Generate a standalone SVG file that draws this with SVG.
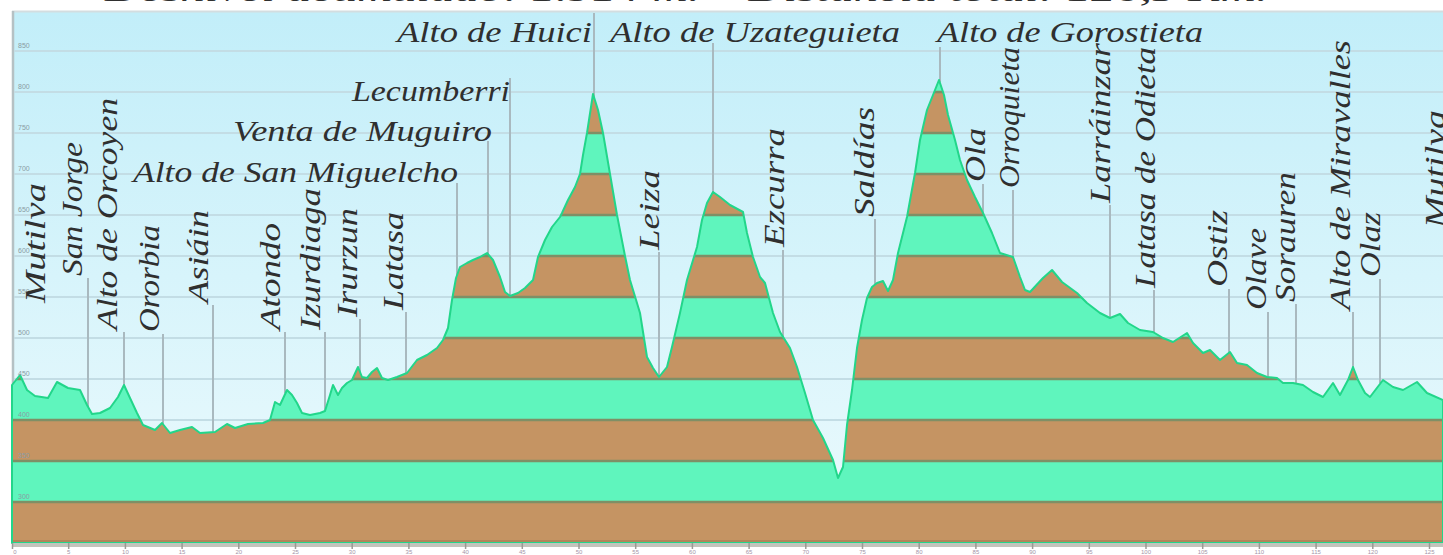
<svg xmlns="http://www.w3.org/2000/svg" width="1443" height="555" viewBox="0 0 1443 555">
<style>
.lbl{font-family:"Liberation Serif","DejaVu Serif",serif;font-style:italic;fill:#2f2f2f;font-size:30px}
.hl{font-size:30px}
.grid{stroke:#c3dde5;stroke-width:2}
.lead{stroke:#a9b9bf;stroke-width:2;fill:none}
.yl{font-family:"Liberation Sans",sans-serif;font-size:7px;fill:#8a9ca3}
.xl{font-family:"Liberation Sans",sans-serif;font-size:6px;fill:#a595a8;text-anchor:middle}
.tick{stroke:#9a9a94;stroke-width:1.5}
.brown{fill:#c59463}
.green{fill:#5ff5bd}
.bline{stroke:#7f8f66;stroke-width:2.5}
</style>
<defs>
<linearGradient id="sky" x1="0" y1="0" x2="0" y2="1">
<stop offset="0" stop-color="#c2eef9"/>
<stop offset="1" stop-color="#ecfafd"/>
</linearGradient>
<clipPath id="prof">
<path id="pp" d="M12,385 L20,375 27,390 35,396 48,398 57,382 68,388 80,390 87,405 92,414 100,413 110,408 118,397 124,385 130,398 137,413 143,425 155,430 162,423 170,433 180,430 192,427 200,433 215,432 227,424 235,428 248,424 263,423 270,420 275,402 280,405 287,390 292,395 297,403 302,413 310,415 320,413 325,411 330,395 333,385 338,395 342,388 347,383 352,380 358,367 362,377 367,378 372,372 377,368 382,378 388,380 397,377 407,373 417,360 427,355 437,348 443,340 448,328 452,300 456,278 460,267 467,263 473,260 480,257 487,253 493,260 500,277 505,292 510,296 518,293 525,288 533,280 538,257 545,240 552,227 560,217 562,213 568,200 575,187 580,174 583,155 587,133 593,94 598,110 603,133 610,174 617,215 625,256 630,280 640,313 647,357 653,368 659,377 667,367 672,347 680,313 687,280 697,247 702,220 707,203 713,192 720,197 730,205 743,212 747,233 753,257 760,277 765,283 773,313 780,332 790,348 797,367 805,393 813,420 823,438 833,460 838,478 843,467 847,425 852,390 857,348 862,320 867,298 872,287 877,283 883,281 888,291 893,280 898,253 907,217 915,173 920,140 927,110 935,90 939,80 944,95 948,115 955,140 960,160 967,180 975,197 983,213 992,233 1000,253 1013,257 1020,277 1025,290 1030,292 1043,278 1052,270 1062,282 1077,293 1087,303 1100,313 1110,318 1120,314 1128,323 1140,330 1153,332 1163,338 1173,342 1187,333 1193,343 1203,353 1210,350 1220,360 1230,352 1237,363 1247,365 1257,373 1267,377 1277,378 1283,383 1293,383 1303,385 1313,392 1323,397 1333,383 1340,395 1348,380 1353,367 1358,380 1365,393 1370,397 1383,380 1393,387 1403,390 1417,382 1427,393 1443,400 L1443,543 L12,543 Z"/>
</clipPath>
</defs>

<rect width="1443" height="555" fill="#ffffff"/>
<text class="lbl" x="105" y="1" font-size="24" textLength="1163" lengthAdjust="spacingAndGlyphs">Desnivel acumulado: 1.914 m. – Distancia total: 126,5 Km.</text>

<g id="chart-frame">
<rect x="12" y="11" width="1431" height="532" fill="url(#sky)"/>
<line x1="12" y1="11.5" x2="1443" y2="11.5" stroke="#d3dde0" stroke-width="2"/>
<line x1="13" y1="11" x2="13" y2="543" stroke="#b5c1c4" stroke-width="2.5"/>
</g>

<g id="gridlines">
<line class="grid" x1="14" y1="51" x2="1443" y2="51"/>
<line class="grid" x1="14" y1="92" x2="1443" y2="92"/>
<line class="grid" x1="14" y1="133" x2="1443" y2="133"/>
<line class="grid" x1="14" y1="174" x2="1443" y2="174"/>
<line class="grid" x1="14" y1="215" x2="1443" y2="215"/>
<line class="grid" x1="14" y1="256" x2="1443" y2="256"/>
<line class="grid" x1="14" y1="297" x2="1443" y2="297"/>
<line class="grid" x1="14" y1="338" x2="1443" y2="338"/>
<line class="grid" x1="14" y1="379" x2="1443" y2="379"/>
<line class="grid" x1="14" y1="420" x2="1443" y2="420"/>
</g>

<g id="connectors">
<line class="lead" x1="88" y1="278" x2="88" y2="407"/>
<line class="lead" x1="124" y1="332" x2="124" y2="386"/>
<line class="lead" x1="163" y1="334" x2="163" y2="424"/>
<line class="lead" x1="213" y1="305" x2="213" y2="432"/>
<line class="lead" x1="285" y1="332" x2="285" y2="393"/>
<line class="lead" x1="325" y1="332" x2="325" y2="411"/>
<line class="lead" x1="360" y1="319" x2="360" y2="372"/>
<line class="lead" x1="406" y1="312" x2="406" y2="374"/>
<line class="lead" x1="457" y1="183" x2="457" y2="276"/>
<line class="lead" x1="488" y1="141" x2="488" y2="255"/>
<line class="lead" x1="510" y1="78" x2="510" y2="296"/>
<line class="lead" x1="594" y1="13" x2="594" y2="97"/>
<line class="lead" x1="659" y1="252" x2="659" y2="377"/>
<line class="lead" x1="713" y1="43" x2="713" y2="193"/>
<line class="lead" x1="783" y1="250" x2="783" y2="338"/>
<line class="lead" x1="875" y1="219" x2="875" y2="284"/>
<line class="lead" x1="940" y1="47" x2="940" y2="82"/>
<line class="lead" x1="983" y1="184" x2="983" y2="213"/>
<line class="lead" x1="1013" y1="190" x2="1013" y2="258"/>
<line class="lead" x1="1110" y1="205" x2="1110" y2="319"/>
<line class="lead" x1="1154" y1="290" x2="1154" y2="333"/>
<line class="lead" x1="1229" y1="289" x2="1229" y2="353"/>
<line class="lead" x1="1268" y1="312" x2="1268" y2="378"/>
<line class="lead" x1="1296" y1="304" x2="1296" y2="385"/>
<line class="lead" x1="1353" y1="312" x2="1353" y2="368"/>
<line class="lead" x1="1380" y1="279" x2="1380" y2="383"/>
</g>

<g id="profile">
<g clip-path="url(#prof)">
<rect class="green" x="12" y="51" width="1431" height="41"/>
<rect class="brown" x="12" y="92" width="1431" height="41"/>
<rect class="green" x="12" y="133" width="1431" height="41"/>
<rect class="brown" x="12" y="174" width="1431" height="41"/>
<rect class="green" x="12" y="215" width="1431" height="41"/>
<rect class="brown" x="12" y="256" width="1431" height="41"/>
<rect class="green" x="12" y="297" width="1431" height="41"/>
<rect class="brown" x="12" y="338" width="1431" height="41"/>
<rect class="green" x="12" y="379" width="1431" height="41"/>
<rect class="brown" x="12" y="420" width="1431" height="41"/>
<rect class="green" x="12" y="461" width="1431" height="41"/>
<rect class="brown" x="12" y="502" width="1431" height="41"/>
<line class="bline" x1="12" y1="92" x2="1443" y2="92"/>
<line class="bline" x1="12" y1="133" x2="1443" y2="133"/>
<line class="bline" x1="12" y1="174" x2="1443" y2="174"/>
<line class="bline" x1="12" y1="215" x2="1443" y2="215"/>
<line class="bline" x1="12" y1="256" x2="1443" y2="256"/>
<line class="bline" x1="12" y1="297" x2="1443" y2="297"/>
<line class="bline" x1="12" y1="338" x2="1443" y2="338"/>
<line class="bline" x1="12" y1="379" x2="1443" y2="379"/>
<line class="bline" x1="12" y1="420" x2="1443" y2="420"/>
<line class="bline" x1="12" y1="461" x2="1443" y2="461"/>
<line class="bline" x1="12" y1="502" x2="1443" y2="502"/>
<line x1="12" y1="541.5" x2="1443" y2="541.5" stroke="#b0865a" stroke-width="3"/>
</g>
<use href="#pp" fill="none" stroke="#22d68a" stroke-width="2" stroke-linejoin="round"/>
</g>

<g id="y-axis-labels">
<text class="yl" x="18" y="48">850</text>
<text class="yl" x="18" y="89">800</text>
<text class="yl" x="18" y="130">750</text>
<text class="yl" x="18" y="171">700</text>
<text class="yl" x="18" y="212">650</text>
<text class="yl" x="18" y="253">600</text>
<text class="yl" x="18" y="294">550</text>
<text class="yl" x="18" y="335">500</text>
<text class="yl" x="18" y="376">450</text>
<text class="yl" x="18" y="417" fill="#5f8f80">400</text>
<text class="yl" x="18" y="458" fill="#8f5f50">350</text>
<text class="yl" x="18" y="499" fill="#3f8f80">300</text>
</g>

<g id="x-axis">
<rect x="12" y="543" width="1431" height="4" fill="#c3c4bc"/>
<line class="tick" x1="12.5" y1="543" x2="12.5" y2="549"/>
<line class="tick" x1="68.7" y1="543" x2="68.7" y2="549"/>
<line class="tick" x1="125.4" y1="543" x2="125.4" y2="549"/>
<line class="tick" x1="182.1" y1="543" x2="182.1" y2="549"/>
<line class="tick" x1="238.8" y1="543" x2="238.8" y2="549"/>
<line class="tick" x1="295.5" y1="543" x2="295.5" y2="549"/>
<line class="tick" x1="352.2" y1="543" x2="352.2" y2="549"/>
<line class="tick" x1="408.9" y1="543" x2="408.9" y2="549"/>
<line class="tick" x1="465.6" y1="543" x2="465.6" y2="549"/>
<line class="tick" x1="522.3" y1="543" x2="522.3" y2="549"/>
<line class="tick" x1="579" y1="543" x2="579" y2="549"/>
<line class="tick" x1="635.7" y1="543" x2="635.7" y2="549"/>
<line class="tick" x1="692.4" y1="543" x2="692.4" y2="549"/>
<line class="tick" x1="749.1" y1="543" x2="749.1" y2="549"/>
<line class="tick" x1="805.8" y1="543" x2="805.8" y2="549"/>
<line class="tick" x1="862.5" y1="543" x2="862.5" y2="549"/>
<line class="tick" x1="919.2" y1="543" x2="919.2" y2="549"/>
<line class="tick" x1="975.9" y1="543" x2="975.9" y2="549"/>
<line class="tick" x1="1032.6" y1="543" x2="1032.6" y2="549"/>
<line class="tick" x1="1089.3" y1="543" x2="1089.3" y2="549"/>
<line class="tick" x1="1146" y1="543" x2="1146" y2="549"/>
<line class="tick" x1="1202.7" y1="543" x2="1202.7" y2="549"/>
<line class="tick" x1="1259.4" y1="543" x2="1259.4" y2="549"/>
<line class="tick" x1="1316.1" y1="543" x2="1316.1" y2="549"/>
<line class="tick" x1="1372.8" y1="543" x2="1372.8" y2="549"/>
<line class="tick" x1="1429.5" y1="543" x2="1429.5" y2="549"/>
<text class="xl" x="15" y="554">0</text>
<text class="xl" x="68.7" y="554">5</text>
<text class="xl" x="125.4" y="554">10</text>
<text class="xl" x="182.1" y="554">15</text>
<text class="xl" x="238.8" y="554">20</text>
<text class="xl" x="295.5" y="554">25</text>
<text class="xl" x="352.2" y="554">30</text>
<text class="xl" x="408.9" y="554">35</text>
<text class="xl" x="465.6" y="554">40</text>
<text class="xl" x="522.3" y="554">45</text>
<text class="xl" x="579" y="554">50</text>
<text class="xl" x="635.7" y="554">55</text>
<text class="xl" x="692.4" y="554">60</text>
<text class="xl" x="749.1" y="554">65</text>
<text class="xl" x="805.8" y="554">70</text>
<text class="xl" x="862.5" y="554">75</text>
<text class="xl" x="919.2" y="554">80</text>
<text class="xl" x="975.9" y="554">85</text>
<text class="xl" x="1032.6" y="554">90</text>
<text class="xl" x="1089.3" y="554">95</text>
<text class="xl" x="1146" y="554">100</text>
<text class="xl" x="1202.7" y="554">105</text>
<text class="xl" x="1259.4" y="554">110</text>
<text class="xl" x="1316.1" y="554">115</text>
<text class="xl" x="1372.8" y="554">120</text>
<text class="xl" x="1429.5" y="554">125</text>
</g>

<g id="alto-de-huici"><text class="lbl hl" x="397" y="42" textLength="195" lengthAdjust="spacingAndGlyphs">Alto de Huici</text></g>
<g id="alto-de-uzateguieta"><text class="lbl hl" x="610" y="42" textLength="290" lengthAdjust="spacingAndGlyphs">Alto de Uzateguieta</text></g>
<g id="alto-de-gorostieta"><text class="lbl hl" x="937" y="42" textLength="266" lengthAdjust="spacingAndGlyphs">Alto de Gorostieta</text></g>
<g id="lecumberri"><text class="lbl hl" x="352" y="101" textLength="158" lengthAdjust="spacingAndGlyphs">Lecumberri</text></g>
<g id="venta-de-muguiro"><text class="lbl hl" x="233" y="141" textLength="259" lengthAdjust="spacingAndGlyphs">Venta de Muguiro</text></g>
<g id="alto-de-san-miguelcho"><text class="lbl hl" x="133" y="182" textLength="325" lengthAdjust="spacingAndGlyphs">Alto de San Miguelcho</text></g>

<g id="mutilva-start"><text class="lbl" transform="translate(45,303) rotate(-90)" textLength="120" lengthAdjust="spacingAndGlyphs">Mutilva</text></g>
<g id="san-jorge"><text class="lbl" transform="translate(82,276) rotate(-90)" textLength="134" lengthAdjust="spacingAndGlyphs">San Jorge</text></g>
<g id="alto-de-orcoyen"><text class="lbl" transform="translate(117,330) rotate(-90)" textLength="232" lengthAdjust="spacingAndGlyphs">Alto de Orcoyen</text></g>
<g id="ororbia"><text class="lbl" transform="translate(159,332) rotate(-90)" textLength="107" lengthAdjust="spacingAndGlyphs">Ororbia</text></g>
<g id="asiain"><text class="lbl" transform="translate(208,303) rotate(-90)" textLength="93" lengthAdjust="spacingAndGlyphs">Asiáin</text></g>
<g id="atondo"><text class="lbl" transform="translate(280,330) rotate(-90)" textLength="107" lengthAdjust="spacingAndGlyphs">Atondo</text></g>
<g id="izurdiaga"><text class="lbl" transform="translate(320,330) rotate(-90)" textLength="142" lengthAdjust="spacingAndGlyphs">Izurdiaga</text></g>
<g id="irurzun"><text class="lbl" transform="translate(357,317) rotate(-90)" textLength="109" lengthAdjust="spacingAndGlyphs">Irurzun</text></g>
<g id="latasa"><text class="lbl" transform="translate(403,310) rotate(-90)" textLength="98" lengthAdjust="spacingAndGlyphs">Latasa</text></g>
<g id="leiza"><text class="lbl" transform="translate(659,250) rotate(-90)" textLength="80" lengthAdjust="spacingAndGlyphs">Leiza</text></g>
<g id="ezcurra"><text class="lbl" transform="translate(784,247) rotate(-90)" textLength="119" lengthAdjust="spacingAndGlyphs">Ezcurra</text></g>
<g id="saldias"><text class="lbl" transform="translate(874,217) rotate(-90)" textLength="110" lengthAdjust="spacingAndGlyphs">Saldías</text></g>
<g id="ola"><text class="lbl" transform="translate(985,182) rotate(-90)" textLength="54" lengthAdjust="spacingAndGlyphs">Ola</text></g>
<g id="orroquieta"><text class="lbl" transform="translate(1019,188) rotate(-90)" textLength="141" lengthAdjust="spacingAndGlyphs">Orroquieta</text></g>
<g id="larrainzar"><text class="lbl" transform="translate(1110,203) rotate(-90)" textLength="160" lengthAdjust="spacingAndGlyphs">Larráinzar</text></g>
<g id="latasa-de-odieta"><text class="lbl" transform="translate(1155,288) rotate(-90)" textLength="241" lengthAdjust="spacingAndGlyphs">Latasa de Odieta</text></g>
<g id="ostiz"><text class="lbl" transform="translate(1227,287) rotate(-90)" textLength="77" lengthAdjust="spacingAndGlyphs">Ostiz</text></g>
<g id="olave"><text class="lbl" transform="translate(1266,310) rotate(-90)" textLength="82" lengthAdjust="spacingAndGlyphs">Olave</text></g>
<g id="sorauren"><text class="lbl" transform="translate(1295,302) rotate(-90)" textLength="130" lengthAdjust="spacingAndGlyphs">Sorauren</text></g>
<g id="alto-de-miravalles"><text class="lbl" transform="translate(1350,310) rotate(-90)" textLength="270" lengthAdjust="spacingAndGlyphs">Alto de Miravalles</text></g>
<g id="olaz"><text class="lbl" transform="translate(1380,277) rotate(-90)" textLength="65" lengthAdjust="spacingAndGlyphs">Olaz</text></g>
<g id="mutilva-end"><text class="lbl" transform="translate(1445,228) rotate(-90)" textLength="118" lengthAdjust="spacingAndGlyphs">Mutilva</text></g>
</svg>
